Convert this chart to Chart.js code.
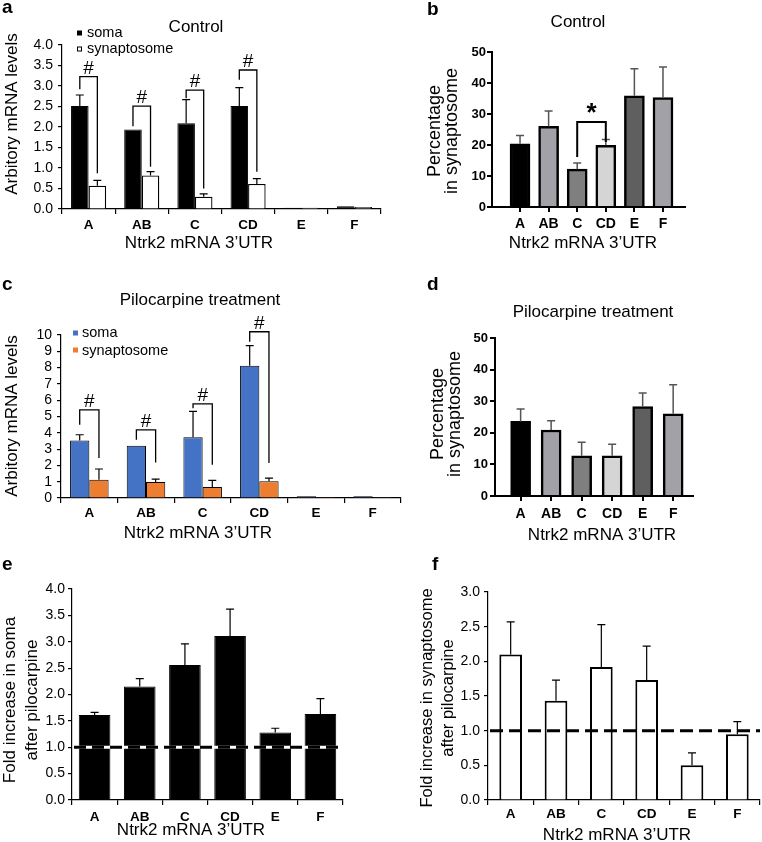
<!DOCTYPE html>
<html>
<head>
<meta charset="utf-8">
<title>Ntrk2 mRNA 3'UTR</title>
<script src="https://cdn.jsdelivr.net/npm/chart.js@4.4.1/dist/chart.umd.min.js"></script>
<style>
  html, body { margin: 0; padding: 0; background: #fff; }
  #wrap { position: relative; width: 762px; height: 842px; overflow: hidden; }
  #wrap canvas { position: absolute; left: 0; top: 0; }
</style>
</head>
<body>
<div id="wrap">
  <canvas id="chartA" width="762" height="842"></canvas>
  <canvas id="chartB" width="762" height="842"></canvas>
  <canvas id="chartC" width="762" height="842"></canvas>
  <canvas id="chartD" width="762" height="842"></canvas>
  <canvas id="chartE" width="762" height="842"></canvas>
  <canvas id="chartF" width="762" height="842"></canvas>
</div>
<script>
var genes = ['A', 'AB', 'C', 'CD', 'E', 'F'];

// a - control, soma vs synaptosome
var ctrlSoma     = [2.51, 1.94, 2.09, 2.51, 0.03, 0.07];
var ctrlSomaErr  = [0.27, 0, 0.58, 0.45, 0, 0];
var ctrlSyn      = [0.57, 0.82, 0.30, 0.61, 0.03, 0.05];
var ctrlSynErr   = [0.13, 0.09, 0.07, 0.13, 0, 0];
var ctrlHashTop  = [3.23, 2.51, 2.90, 3.39];
var ctrlHashSoma = [2.92, 2.02, 2.70, 3.15];
var ctrlHashSyn  = [0.87, 1.03, 0.50, 0.91];
var ticksLevelCtrl = [0, 0.5, 1, 1.5, 2, 2.5, 3, 3.5, 4];

// b - control, percentage in synaptosome
var pctCtrl    = [20.4, 26.0, 12.2, 19.9, 35.9, 35.3];
var pctCtrlErr = [2.7, 5.0, 2.0, 1.9, 8.7, 9.9];
var pctStar    = [2, 3];          // C vs CD
var pctStarY   = [27.4, 16.1, 21.0]; // top, left leg end, right leg end
var ticksPct   = [0, 10, 20, 30, 40, 50];

// c - pilocarpine, soma vs synaptosome
var piloSoma     = [3.53, 3.20, 3.73, 8.12, 0.10, 0.10];
var piloSomaErr  = [0.35, 0, 1.58, 1.23, 0, 0];
var piloSyn      = [1.12, 0.98, 0.67, 1.02, 0.06, 0.06];
var piloSynErr   = [0.66, 0.18, 0.41, 0.20, 0, 0];
var piloHashTop  = [5.41, 4.18, 5.78, 10.2];
var piloHashSoma = [4.49, 3.57, 5.51, 9.59];
var piloHashSyn  = [2.45, 2.18, 2.04, 2.14];
var ticksLevelPilo = [0, 1, 2, 3, 4, 5, 6, 7, 8, 9, 10];

// d - pilocarpine, percentage in synaptosome
var pctPilo    = [23.6, 20.9, 12.7, 12.7, 28.3, 26.0];
var pctPiloErr = [3.9, 2.9, 4.3, 3.7, 4.3, 9.2];

// e / f - fold increase after pilocarpine
var foldSoma    = [1.61, 2.15, 2.56, 3.11, 1.28, 1.63];
var foldSomaErr = [0.05, 0.15, 0.40, 0.51, 0.08, 0.29];
var foldSyn     = [2.10, 1.43, 1.92, 1.73, 0.50, 0.95];
var foldSynErr  = [0.47, 0.30, 0.61, 0.49, 0.18, 0.18];
var ticksFoldSoma = [0, 0.5, 1, 1.5, 2, 2.5, 3, 3.5, 4];
var ticksFoldSyn  = [0, 0.5, 1, 1.5, 2, 2.5, 3];

var FONT = "'Liberation Sans', Arial, Helvetica, sans-serif";
var W = 762, H = 842, AXW = 40, AXH = 40;
var pctColors = ['#000000', '#a1a1a7', '#7f7f7f', '#d5d5d5', '#5f5f5f', '#a1a1a7'];

function valueAt(ds, i) {
  var d = ds.data[i];
  return (d !== null && typeof d === 'object') ? d.y : d;
}

// error bars, significance brackets, reference line, free text
var extras = {
  id: 'extras',
  afterDatasetsDraw: function(chart, args, opts) {
    var ctx = chart.ctx, ys = chart.scales.y, area = chart.chartArea;
    ctx.save();
    chart.data.datasets.forEach(function(ds, di) {
      if (!ds.errors) return;
      var meta = chart.getDatasetMeta(di);
      ctx.strokeStyle = opts.errColor || '#000';
      ctx.lineWidth = opts.errWidth || 1;
      meta.data.forEach(function(bar, i) {
        var e = ds.errors[i];
        if (!e) return;
        var yEnd = ys.getPixelForValue(valueAt(ds, i) + e);
        ctx.beginPath();
        ctx.moveTo(bar.x, bar.y);
        ctx.lineTo(bar.x, yEnd);
        ctx.moveTo(bar.x - opts.cap / 2, yEnd);
        ctx.lineTo(bar.x + opts.cap / 2, yEnd);
        ctx.stroke();
      });
    });

    (opts.brackets || []).forEach(function(b) {
      var x1 = chart.getDatasetMeta(b.from[0]).data[b.from[1]].x;
      var x2 = chart.getDatasetMeta(b.to[0]).data[b.to[1]].x;
      var yt = ys.getPixelForValue(b.top);
      ctx.strokeStyle = '#000';
      ctx.lineWidth = opts.bracketWidth || 1.2;
      ctx.beginPath();
      ctx.moveTo(x1, ys.getPixelForValue(b.left));
      ctx.lineTo(x1, yt);
      ctx.lineTo(x2, yt);
      ctx.lineTo(x2, ys.getPixelForValue(b.right));
      ctx.stroke();
      ctx.fillStyle = '#000';
      ctx.font = opts.markFont;
      ctx.textAlign = 'center';
      ctx.textBaseline = 'alphabetic';
      ctx.fillText(b.mark, (x1 + x2) / 2, yt - opts.markGap);
    });

    var ref = opts.refLine;
    if (ref) {
      var ry = ys.getPixelForValue(ref.value);
      ctx.lineWidth = ref.width;
      if (ref.under) {
        ctx.strokeStyle = ref.under;
        ctx.beginPath(); ctx.moveTo(area.left + 1, ry); ctx.lineTo(area.right, ry); ctx.stroke();
      }
      ctx.setLineDash(ref.dash);
      ctx.strokeStyle = '#000';
      ctx.beginPath(); ctx.moveTo(area.left + 2, ry); ctx.lineTo(area.right, ry); ctx.stroke();
      ctx.setLineDash([]);
    }
    ctx.restore();
  },
  afterDraw: function(chart, args, opts) {
    var ctx = chart.ctx;
    ctx.save();
    (opts.swatches || []).forEach(function(s) {
      ctx.fillStyle = s.fill;
      ctx.fillRect(s.x, s.y, s.w, s.w);
      if (s.stroke) {
        ctx.strokeStyle = s.stroke; ctx.lineWidth = 1;
        ctx.strokeRect(s.x + 0.5, s.y + 0.5, s.w - 1, s.w - 1);
      }
    });
    (opts.texts || []).forEach(function(t) {
      ctx.save();
      ctx.fillStyle = '#000';
      ctx.font = (t.weight || 'normal') + ' ' + t.size + 'px ' + FONT;
      ctx.textAlign = t.align || 'center';
      ctx.textBaseline = t.base || 'middle';
      ctx.translate(t.x, t.y);
      if (t.rot) ctx.rotate(t.rot * Math.PI / 180);
      ctx.fillText(t.text, 0, 0);
      ctx.restore();
    });
    ctx.restore();
  }
};

function yAxis(vals, o) {
  return {
    min: vals[0], max: vals[vals.length - 1],
    afterBuildTicks: function(s) { s.ticks = vals.map(function(v) { return { value: v }; }); },
    grid: { drawOnChartArea: false, drawTicks: true, tickLength: o.tl || 4, color: '#000', lineWidth: o.line || 1.2 },
    border: { color: '#000', width: o.line || 1.2 },
    ticks: {
      color: '#000', padding: o.pad, autoSkip: false,
      font: { family: FONT, size: o.size || 14, weight: o.weight || 'normal' },
      callback: function(v) { return o.fmt(v); }
    },
    afterFit: function(s) { s.width = AXW; }
  };
}

function catAxis(o) {
  return {
    type: 'category', offset: true,
    grid: { offset: true, drawOnChartArea: false, drawTicks: true, tickLength: 5, color: '#000', lineWidth: o.line || 1.2 },
    border: { color: '#000', width: o.line || 1.2 },
    ticks: { color: '#000', padding: o.pad, autoSkip: false, maxRotation: 0, font: { family: FONT, size: 13.5, weight: 'bold' } },
    afterFit: function(s) { s.height = AXH; }
  };
}

// prism style panels: axis runs past the first and last bar
function numAxis(o) {
  return {
    type: 'linear', min: o.min, max: o.max, offset: false,
    afterBuildTicks: function(s) { s.ticks = genes.map(function(g, i) { return { value: i }; }); },
    grid: { offset: false, drawOnChartArea: false, drawTicks: true, tickLength: 5, color: '#000', lineWidth: 2 },
    border: { color: '#000', width: 2 },
    ticks: {
      color: '#000', padding: o.pad, autoSkip: false, maxRotation: 0,
      font: { family: FONT, size: 14, weight: 'bold' },
      callback: function(v) { return genes[v]; }
    },
    afterFit: function(s) { s.height = AXH; }
  };
}

function panel(id, spec) {
  var a = spec.area;
  return new Chart(document.getElementById(id), {
    type: 'bar',
    data: { labels: genes, datasets: spec.datasets },
    options: {
      responsive: false, animation: false, devicePixelRatio: 1, events: [],
      layout: { padding: { left: a[0] - AXW, top: a[1], right: W - a[2], bottom: H - a[3] - AXH } },
      plugins: { legend: { display: false }, tooltip: { enabled: false }, extras: spec.extras },
      scales: { x: spec.x, y: spec.y }
    },
    plugins: [extras]
  });
}

function points(vals) {
  return vals.map(function(v, i) { return { x: i, y: v }; });
}

function hashBrackets(top, soma, syn) {
  return top.map(function(t, i) {
    return { from: [0, i], to: [1, i], top: t, left: soma[i], right: syn[i], mark: '#' };
  });
}

var fix1 = function(v) { return v.toFixed(1); };
var whole = function(v) { return String(v); };
var utr = 'Ntrk2 mRNA 3\u2019UTR';

// a
panel('chartA', {
  area: [62, 45, 381, 209],
  datasets: [
    { label: 'soma', data: ctrlSoma, errors: ctrlSomaErr, backgroundColor: '#000', borderColor: '#000', borderWidth: 1, barPercentage: 1, categoryPercentage: 0.66 },
    { label: 'synaptosome', data: ctrlSyn, errors: ctrlSynErr, backgroundColor: '#fff', borderColor: '#000', borderWidth: 1.3, barPercentage: 1, categoryPercentage: 0.66 }
  ],
  x: catAxis({ pad: 3 }),
  y: yAxis(ticksLevelCtrl, { pad: 5, fmt: fix1 }),
  extras: {
    cap: 8, errWidth: 1.2, bracketWidth: 1.3, markFont: '19px ' + FONT, markGap: 3,
    brackets: hashBrackets(ctrlHashTop, ctrlHashSoma, ctrlHashSyn),
    swatches: [{ x: 77, y: 30.5, w: 5, fill: '#000' }, { x: 77, y: 46.5, w: 5, fill: '#fff', stroke: '#000' }],
    texts: [
      { text: 'a', x: 2, y: 13, size: 19, weight: 'bold', align: 'left', base: 'alphabetic' },
      { text: 'Control', x: 196, y: 27, size: 17 },
      { text: 'soma', x: 87, y: 33, size: 14.5, align: 'left' },
      { text: 'synaptosome', x: 87, y: 49, size: 14.5, align: 'left' },
      { text: 'Arbitory mRNA levels', x: 12, y: 114, size: 17, rot: -90 },
      { text: utr, x: 199, y: 243, size: 17 }
    ]
  }
});

// b
panel('chartB', {
  area: [492, 52, 685, 207],
  datasets: [
    { label: 'Control', data: points(pctCtrl), errors: pctCtrlErr, backgroundColor: pctColors, borderColor: '#000', borderWidth: 2.5, barThickness: 20 }
  ],
  x: numAxis({ min: -0.98, max: 5.77, pad: 4 }),
  y: yAxis(ticksPct, { pad: 1, tl: 5, line: 2, size: 13, weight: 'bold', fmt: whole }),
  extras: {
    cap: 8, errWidth: 1.5, errColor: '#555', bracketWidth: 2, markFont: 'bold 26px ' + FONT, markGap: 1,
    brackets: [{ from: [0, pctStar[0]], to: [0, pctStar[1]], top: pctStarY[0], left: pctStarY[1], right: pctStarY[2], mark: '*' }],
    texts: [
      { text: 'b', x: 427, y: 15, size: 19, weight: 'bold', align: 'left', base: 'alphabetic' },
      { text: 'Control', x: 578, y: 22, size: 17 },
      { text: 'Percentage', x: 435, y: 131, size: 18, rot: -90 },
      { text: 'in synaptosome', x: 452, y: 131, size: 18, rot: -90 },
      { text: utr, x: 583, y: 243, size: 17 }
    ]
  }
});

// c
panel('chartC', {
  area: [61, 335, 401, 498],
  datasets: [
    { label: 'soma', data: piloSoma, errors: piloSomaErr, backgroundColor: '#4472c4', borderColor: '#000', borderWidth: 1, barPercentage: 1, categoryPercentage: 0.68 },
    { label: 'synaptosome', data: piloSyn, errors: piloSynErr, backgroundColor: '#ed7d31', borderColor: '#000', borderWidth: 1, barPercentage: 1, categoryPercentage: 0.68 }
  ],
  x: catAxis({ pad: 2 }),
  y: yAxis(ticksLevelPilo, { pad: 5, fmt: whole }),
  extras: {
    cap: 8, errWidth: 1.2, bracketWidth: 1.3, markFont: '19px ' + FONT, markGap: 3,
    brackets: hashBrackets(piloHashTop, piloHashSoma, piloHashSyn),
    swatches: [{ x: 73, y: 330.5, w: 5, fill: '#4472c4' }, { x: 73, y: 347.5, w: 5, fill: '#ed7d31' }],
    texts: [
      { text: 'c', x: 2, y: 290, size: 19, weight: 'bold', align: 'left', base: 'alphabetic' },
      { text: 'Pilocarpine treatment', x: 200, y: 300, size: 17 },
      { text: 'soma', x: 82, y: 333, size: 14.5, align: 'left' },
      { text: 'synaptosome', x: 82, y: 351, size: 14.5, align: 'left' },
      { text: 'Arbitory mRNA levels', x: 12, y: 416, size: 17, rot: -90 },
      { text: utr, x: 198, y: 533, size: 17 }
    ]
  }
});

// d
panel('chartD', {
  area: [495, 338, 693, 496],
  datasets: [
    { label: 'Pilocarpine', data: points(pctPilo), errors: pctPiloErr, backgroundColor: pctColors, borderColor: '#000', borderWidth: 2.5, barThickness: 20 }
  ],
  x: numAxis({ min: -0.84, max: 5.65, pad: 5 }),
  y: yAxis(ticksPct, { pad: 2, tl: 5, line: 2, size: 13, weight: 'bold', fmt: whole }),
  extras: {
    cap: 8, errWidth: 1.5, errColor: '#555',
    texts: [
      { text: 'd', x: 427, y: 290, size: 19, weight: 'bold', align: 'left', base: 'alphabetic' },
      { text: 'Pilocarpine treatment', x: 593, y: 312, size: 17 },
      { text: 'Percentage', x: 438, y: 414, size: 18, rot: -90 },
      { text: 'in synaptosome', x: 455, y: 414, size: 18, rot: -90 },
      { text: utr, x: 602, y: 535, size: 17 }
    ]
  }
});

// e
panel('chartE', {
  area: [72, 589, 343, 800],
  datasets: [
    { label: 'soma', data: foldSoma, errors: foldSomaErr, backgroundColor: '#000', borderColor: '#000', borderWidth: 1, barPercentage: 1, categoryPercentage: 0.7 }
  ],
  x: catAxis({ pad: 4 }),
  y: yAxis(ticksFoldSoma, { pad: 3, fmt: fix1 }),
  extras: {
    cap: 8, errWidth: 1.2,
    refLine: { value: 1, width: 3, dash: [12, 6], under: '#fff' },
    texts: [
      { text: 'e', x: 2, y: 570, size: 19, weight: 'bold', align: 'left', base: 'alphabetic' },
      { text: 'Fold increase in soma', x: 10, y: 700, size: 17, rot: -90 },
      { text: 'after pilocarpine', x: 32, y: 700, size: 17, rot: -90 },
      { text: utr, x: 191, y: 830, size: 17 }
    ]
  }
});

// f
panel('chartF', {
  area: [488, 592, 760, 800],
  datasets: [
    { label: 'synaptosome', data: foldSyn, errors: foldSynErr, backgroundColor: '#fff', borderColor: '#000', borderWidth: 2, barPercentage: 1, categoryPercentage: 0.5 }
  ],
  x: catAxis({ pad: 1 }),
  y: yAxis(ticksFoldSyn, { pad: 4, fmt: fix1 }),
  extras: {
    cap: 8, errWidth: 1.2,
    refLine: { value: 1, width: 3, dash: [13, 6] },
    texts: [
      { text: 'f', x: 432, y: 570, size: 19, weight: 'bold', align: 'left', base: 'alphabetic' },
      { text: 'Fold increase in synaptosome', x: 427, y: 698, size: 16.5, rot: -90 },
      { text: 'after pilocarpine', x: 448, y: 698, size: 16.5, rot: -90 },
      { text: utr, x: 617, y: 835, size: 17 }
    ]
  }
});
</script>
</body>
</html>
